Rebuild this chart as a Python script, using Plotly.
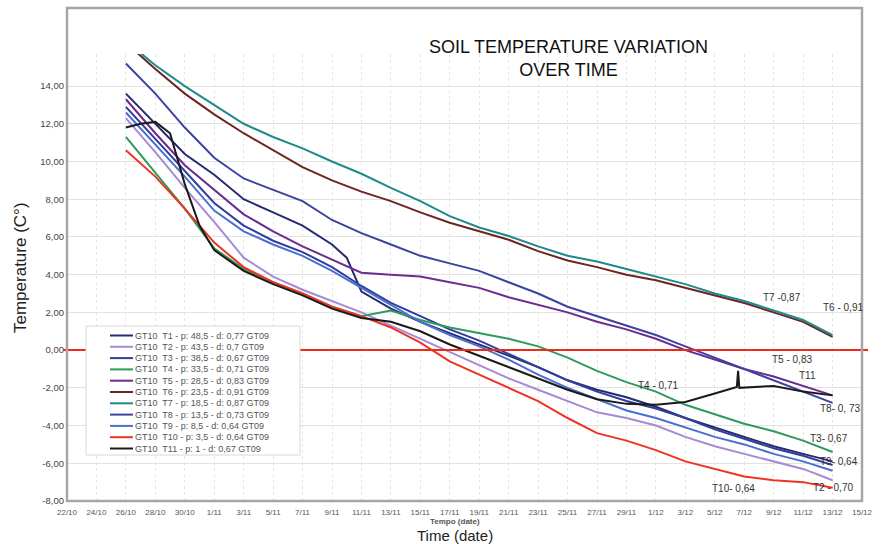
import plotly.graph_objects as go
import pandas as pd

# ---------------- data ----------------
DATES = ["2009-10-26", "2009-10-28", "2009-10-30", "2009-11-01", "2009-11-03", "2009-11-05",
         "2009-11-07", "2009-11-09", "2009-11-11", "2009-11-13", "2009-11-15", "2009-11-17",
         "2009-11-19", "2009-11-21", "2009-11-23", "2009-11-25", "2009-11-27", "2009-11-29",
         "2009-12-01", "2009-12-03", "2009-12-05", "2009-12-07", "2009-12-09", "2009-12-11",
         "2009-12-13"]

T1_DATES = ["2009-10-26", "2009-10-28", "2009-10-30", "2009-11-01", "2009-11-03", "2009-11-05",
            "2009-11-07", "2009-11-09", "2009-11-10", "2009-11-11", "2009-11-13", "2009-11-15",
            "2009-11-17", "2009-11-19", "2009-11-21", "2009-11-23", "2009-11-25", "2009-11-27",
            "2009-11-29", "2009-12-01", "2009-12-03", "2009-12-05", "2009-12-07", "2009-12-09",
            "2009-12-11", "2009-12-13"]
T1 = [13.6, 12.0, 10.4, 9.3, 8.0, 7.3, 6.6, 5.6, 4.9, 3.1, 2.2, 1.5, 0.9, 0.3, -0.3, -0.9,
      -1.6, -2.1, -2.5, -3.0, -3.6, -4.1, -4.6, -5.1, -5.5, -5.9]
T2 = [12.3, 10.5, 8.6, 6.8, 4.9, 3.9, 3.2, 2.6, 2.0, 1.3, 0.6, -0.1, -0.8, -1.5, -2.1, -2.7,
      -3.3, -3.6, -4.0, -4.6, -5.1, -5.5, -5.9, -6.3, -6.9]
T3 = [12.9, 11.2, 9.5, 7.8, 6.6, 5.8, 5.2, 4.4, 3.4, 2.5, 1.8, 1.1, 0.5, -0.2, -0.9, -1.6,
      -2.2, -2.7, -3.1, -3.6, -4.2, -4.7, -5.2, -5.6, -6.1]
T4 = [11.3, 9.4, 7.5, 5.4, 4.3, 3.6, 3.0, 2.3, 1.8, 2.1, 1.6, 1.2, 0.9, 0.6, 0.2, -0.4,
      -1.1, -1.7, -2.2, -2.9, -3.4, -3.9, -4.3, -4.8, -5.4]
T5 = [13.3, 11.5, 9.8, 8.5, 7.2, 6.3, 5.5, 4.8, 4.1, 4.0, 3.9, 3.6, 3.3, 2.8, 2.4, 2.0,
      1.5, 1.1, 0.6, 0.0, -0.5, -1.0, -1.4, -1.9, -2.4]
T6 = [16.3, 14.9, 13.6, 12.5, 11.5, 10.6, 9.7, 9.0, 8.4, 7.9, 7.3, 6.75, 6.3, 5.85, 5.25,
      4.75, 4.4, 4.0, 3.7, 3.3, 2.9, 2.5, 2.0, 1.5, 0.7]
T7 = [16.4, 15.1, 14.0, 13.0, 12.0, 11.3, 10.7, 10.0, 9.35, 8.6, 7.9, 7.1, 6.5, 6.05, 5.5,
      5.0, 4.7, 4.3, 3.9, 3.5, 3.0, 2.6, 2.1, 1.6, 0.8]
T8 = [15.2, 13.6, 11.8, 10.2, 9.1, 8.5, 7.9, 6.9, 6.2, 5.6, 5.0, 4.6, 4.2, 3.6, 3.0, 2.3,
      1.8, 1.3, 0.8, 0.2, -0.4, -1.0, -1.6, -2.2, -2.8]
T9 = [12.6, 10.9, 9.2, 7.4, 6.3, 5.6, 5.0, 4.2, 3.3, 2.4, 1.5, 0.8, 0.2, -0.5, -1.3, -2.0,
      -2.6, -3.2, -3.6, -4.1, -4.6, -5.0, -5.5, -5.9, -6.4]
T10 = [10.6, 9.2, 7.5, 5.7, 4.4, 3.6, 3.0, 2.3, 1.8, 1.2, 0.4, -0.6, -1.3, -2.0, -2.7, -3.6,
       -4.4, -4.8, -5.3, -5.9, -6.3, -6.7, -6.9, -7.0, -7.3]
T11_DATES = ["2009-10-26", "2009-10-27", "2009-10-28", "2009-10-29", "2009-10-30", "2009-10-31",
             "2009-11-01", "2009-11-03", "2009-11-05", "2009-11-07", "2009-11-09", "2009-11-11",
             "2009-11-13", "2009-11-15", "2009-11-17", "2009-11-19", "2009-11-21", "2009-11-23",
             "2009-11-25", "2009-11-27", "2009-11-29", "2009-12-01", "2009-12-03", "2009-12-05",
             "2009-12-06 12:00", "2009-12-06 14:00", "2009-12-06 16:00", "2009-12-09",
             "2009-12-11", "2009-12-13"]
T11 = [11.8, 12.0, 12.1, 11.5, 8.8, 6.6, 5.3, 4.2, 3.5, 2.9, 2.2, 1.7, 1.5, 1.0, 0.3, -0.3,
       -0.9, -1.5, -2.1, -2.6, -2.85, -2.9, -2.75, -2.3, -1.95, -1.1, -2.0, -1.9, -2.2, -2.4]

SERIES_NAMES = ["GT10  T1 - p: 48,5 - d: 0,77 GT09", "GT10  T2 - p: 43,5 - d: 0,7 GT09",
                "GT10  T3 - p: 38,5 - d: 0,67 GT09", "GT10  T4 - p: 33,5 - d: 0,71 GT09",
                "GT10  T5 - p: 28,5 - d: 0,83 GT09", "GT10  T6 - p: 23,5 - d: 0,91 GT09",
                "GT10  T7 - p: 18,5 - d: 0,87 GT09", "GT10  T8 - p: 13,5 - d: 0,73 GT09",
                "GT10  T9 - p: 8,5 - d: 0,64 GT09", "GT10  T10 - p: 3,5 - d: 0,64 GT09",
                "GT10  T11 - p: 1 - d: 0,67 GT09"]
SERIES_COLORS = ["#262a6e", "#a58ad6", "#2f3d9e", "#2e9a5e", "#6b2c8e", "#6e2420",
                 "#1f8a8a", "#3a44a0", "#4a6fd0", "#ee3322", "#1a1a1a"]

TICK_LABELS = ["22/10", "24/10", "26/10", "28/10", "30/10", "1/11", "3/11", "5/11", "7/11",
               "9/11", "11/11", "13/11", "15/11", "17/11", "19/11", "21/11", "23/11", "25/11",
               "27/11", "29/11", "1/12", "3/12", "5/12", "7/12", "9/12", "11/12", "13/12", "15/12"]
Y_TICKS = [-8, -6, -4, -2, 0, 2, 4, 6, 8, 10, 12, 14]
Y_TICK_LABELS = ["-8,00", "-6,00", "-4,00", "-2,00", "0,00", "2,00", "4,00", "6,00", "8,00",
                 "10,00", "12,00", "14,00"]

CURVE_LABELS = [("T7 -0,87", "2009-12-09 14:00", 2.8), ("T6 - 0,91", "2009-12-13 17:00", 2.27),
                ("T5 - 0,83", "2009-12-10 06:00", -0.48), ("T11", "2009-12-11 07:00", -1.32),
                ("T8- 0, 73", "2009-12-13 12:00", -3.07), ("T4 - 0,71", "2009-12-01 03:30", -1.85),
                ("T3- 0,67", "2009-12-12 19:00", -4.66), ("T9- 0,64", "2009-12-13 10:00", -5.9),
                ("T10- 0,64", "2009-12-06 06:00", -7.35), ("T2 - 0,70", "2009-12-13 00:00", -7.3)]

# ---------------- figure ----------------
W, H = 885, 544
L, R, T, B = 67, 862, 54, 501  # plot area in px


def px_x(px):
    return (px - L) / (R - L)


def px_y(py):
    return (B - py) / (B - T)


series_x = [T1_DATES, DATES, DATES, DATES, DATES, DATES, DATES, DATES, DATES, DATES, T11_DATES]
series_y = [T1, T2, T3, T4, T5, T6, T7, T8, T9, T10, T11]

fig = go.Figure()
for name, color, xs, ys in zip(SERIES_NAMES, SERIES_COLORS, series_x, series_y):
    fig.add_trace(go.Scatter(x=pd.to_datetime(xs, format="ISO8601"), y=ys, mode="lines",
                             name=name, line=dict(color=color, width=2), showlegend=False))

tick_dates = pd.date_range("2009-10-22", "2009-12-15", freq="2D")

fig.update_layout(
    width=W, height=H,
    margin=dict(l=L, r=W - R, t=T, b=H - B),
    paper_bgcolor="white", plot_bgcolor="white",
    font=dict(family="Liberation Sans, Arial, sans-serif", color="#444"),
    xaxis=dict(range=[pd.Timestamp("2009-10-22"), pd.Timestamp("2009-12-15")],
               tickvals=tick_dates, ticktext=TICK_LABELS, tickangle=0,
               tickfont=dict(size=8, color="#555"), showgrid=True, ticklabelstandoff=5,
               gridcolor="#e4e4e4", griddash="dot", gridwidth=1,
               showline=False, zeroline=False, ticks=""),
    yaxis=dict(range=[-8, 15.7], tickvals=Y_TICKS, ticktext=Y_TICK_LABELS,
               tickfont=dict(size=9.5, color="#444"), showgrid=True, ticklabelstandoff=2,
               gridcolor="#e2e2e2", gridwidth=1, zeroline=False, showline=False, ticks=""),
)

shapes = []
# zero reference line
shapes.append(dict(type="line", xref="paper", yref="y", x0=px_x(63), x1=px_x(868), y0=0, y1=0,
                   line=dict(color="#ee2a18", width=2), layer="above"))
# outer frame
shapes.append(dict(type="rect", xref="paper", yref="paper", x0=0, x1=1, y0=0, y1=px_y(8),
                   line=dict(color="#a6a6a6", width=2.5), layer="above"))
# legend box
LEG_X0, LEG_X1, LEG_Y0, LEG_Y1 = 86, 300, 326, 455
shapes.append(dict(type="rect", xref="paper", yref="paper", x0=px_x(LEG_X0), x1=px_x(LEG_X1),
                   y0=px_y(LEG_Y1), y1=px_y(LEG_Y0), fillcolor="white",
                   line=dict(color="#d8d8d8", width=1), layer="above"))

annotations = []
row0, row_step = 335.5, 11.3
for i, (name, color) in enumerate(zip(SERIES_NAMES, SERIES_COLORS)):
    yy = row0 + i * row_step
    shapes.append(dict(type="line", xref="paper", yref="paper", x0=px_x(110), x1=px_x(133),
                       y0=px_y(yy), y1=px_y(yy), line=dict(color=color, width=2), layer="above"))
    annotations.append(dict(text=name, xref="paper", yref="paper", x=px_x(133), y=px_y(yy),
                            xanchor="left", yanchor="middle", showarrow=False,
                            font=dict(size=9, color="#555")))

for txt, xd, yv in CURVE_LABELS:
    annotations.append(dict(text=txt, x=pd.Timestamp(xd), y=yv, xref="x", yref="y",
                            showarrow=False, xanchor="center", yanchor="middle",
                            font=dict(size=10, color="#333")))

annotations.append(dict(text="SOIL TEMPERATURE VARIATION<br>OVER TIME", xref="paper", yref="paper",
                        x=px_x(568), y=px_y(58), xanchor="center", yanchor="middle",
                        showarrow=False, font=dict(size=18, color="#111")))
annotations.append(dict(text="Temperature (C°)", xref="paper", yref="paper", x=px_x(20),
                        y=px_y(268), xanchor="center", yanchor="middle", textangle=-90,
                        showarrow=False, font=dict(size=17, color="#222")))
annotations.append(dict(text="<b>Tempo (date)</b>", xref="paper", yref="paper", x=px_x(455),
                        y=px_y(521.5), xanchor="center", yanchor="middle", showarrow=False,
                        font=dict(size=8, color="#555")))
annotations.append(dict(text="Time (date)", xref="paper", yref="paper", x=px_x(455),
                        y=px_y(535), xanchor="center", yanchor="middle", showarrow=False,
                        font=dict(size=15, color="#222")))

fig.update_layout(shapes=shapes, annotations=annotations)
fig.write_html("out.html")
